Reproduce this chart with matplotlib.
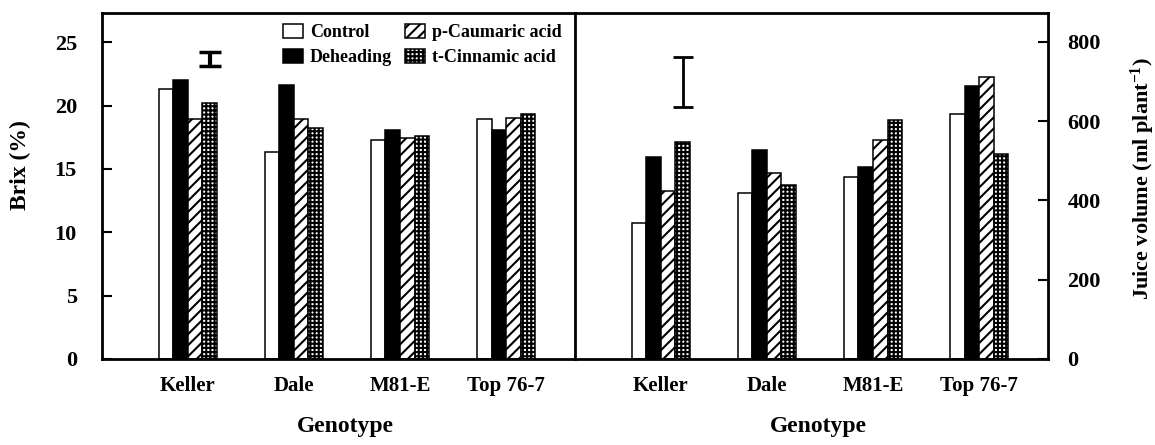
import numpy as np
import matplotlib
matplotlib.use("Agg")
import matplotlib.pyplot as plt
from matplotlib.patches import Patch

# data
genotypes = ['Keller', 'Dale', 'M81-E', 'Top 76-7']
treatments = ['Control', 'Deheading', 'p-Caumaric acid', 't-Cinnamic acid']

brix_control = [21.3, 16.3, 17.3, 18.9]
brix_deheading = [22.0, 21.6, 18.1, 18.1]
brix_caumaric = [18.95, 18.9, 17.45, 19.0]
brix_cinnamic = [20.2, 18.2, 17.6, 19.35]

juice_control = [343, 419, 459, 618]
juice_deheading = [509, 527, 484, 689]
juice_caumaric = [424, 469, 552, 712]
juice_cinnamic = [547, 439, 603, 517]

# LSD bars (centre, half length)
brix_lsd = (23.65, 0.55)
juice_lsd = (699, 63)

plt.rcParams['font.family'] = ['Liberation Serif', 'DejaVu Serif']
plt.rcParams['font.weight'] = 'bold'
plt.rcParams['axes.labelweight'] = 'bold'
plt.rcParams['mathtext.fontset'] = 'custom'
plt.rcParams['mathtext.rm'] = 'Liberation Serif:bold'
plt.rcParams['mathtext.it'] = 'Liberation Serif:bold'
plt.rcParams['mathtext.bf'] = 'Liberation Serif:bold'
plt.rcParams['hatch.linewidth'] = 1.5

W = 0.137
offsets = np.array([-1.5, -0.5, 0.5, 1.5]) * W
bar_styles = [
    dict(facecolor='white', edgecolor='black'),
    dict(facecolor='black', edgecolor='black'),
    dict(facecolor='white', edgecolor='black', hatch='///'),
    dict(facecolor='white', edgecolor='black', hatch='++++'),
]


def draw_bars(ax, series):
    x = np.arange(len(genotypes))
    for off, vals, st in zip(offsets, series, bar_styles):
        ax.bar(x + off, vals, W, linewidth=1.1, **st)


fig = plt.figure(figsize=(11.55, 4.45), dpi=100)
ax1 = fig.add_axes([102/1155, 1 - 359/445, 473/1155, 346/445])
ax2 = fig.add_axes([575/1155, 1 - 359/445, 473/1155, 346/445])

draw_bars(ax1, [brix_control, brix_deheading, brix_caumaric, brix_cinnamic])
draw_bars(ax2, [juice_control, juice_deheading, juice_caumaric, juice_cinnamic])

ax1.errorbar([offsets[3]], [brix_lsd[0]], yerr=[brix_lsd[1]], color='black',
             elinewidth=3, capsize=8, capthick=2.5)
ax2.errorbar([offsets[3]], [juice_lsd[0]], yerr=[juice_lsd[1]], color='black',
             elinewidth=2, capsize=7, capthick=2)

for ax in (ax1, ax2):
    ax.set_xlim(-0.81, 3.65)
    ax.set_xticks(np.arange(len(genotypes)))
    ax.set_xticklabels(genotypes, fontsize=15)
    ax.tick_params(axis='x', length=0, pad=12)
    for s in ax.spines.values():
        s.set_linewidth(2)
    ax.set_xlabel('Genotype', fontsize=17)
    ax.xaxis.set_label_coords(0.515, -0.165)

ax1.spines['right'].set_visible(False)
ax1.set_ylim(0, 27.3)
ax1.set_yticks([0, 5, 10, 15, 20, 25])
ax1.tick_params(axis='y', direction='in', length=7, width=1.5, pad=18, labelsize=16)
ax1.set_ylabel('Brix (%)', fontsize=17)
ax1.yaxis.set_label_coords(-0.15, 0.56)

ax2.set_ylim(0, 873)
ax2.set_yticks([0, 200, 400, 600, 800])
ax2.yaxis.tick_right()
ax2.yaxis.set_label_position('right')
ax2.tick_params(axis='y', direction='in', length=7, width=1.5, pad=14, labelsize=16,
                left=False, right=True)
ax2.set_ylabel('Juice volume (ml plant$^{-1}$)', fontsize=16)
ax2.yaxis.set_label_coords(1.17, 0.52)

handles = [Patch(linewidth=1.1, **st) for st in bar_styles]
ax1.legend(handles, treatments, ncol=2, frameon=False, fontsize=13,
           loc='upper left', bbox_to_anchor=((283 - 102) / 473, 1 - 11 / 346),
           borderaxespad=0, borderpad=0, handlelength=1.1, handleheight=0.8,
           handletextpad=0.4, columnspacing=0.7, labelspacing=0.45)

fig.savefig('out.png', dpi=100)
